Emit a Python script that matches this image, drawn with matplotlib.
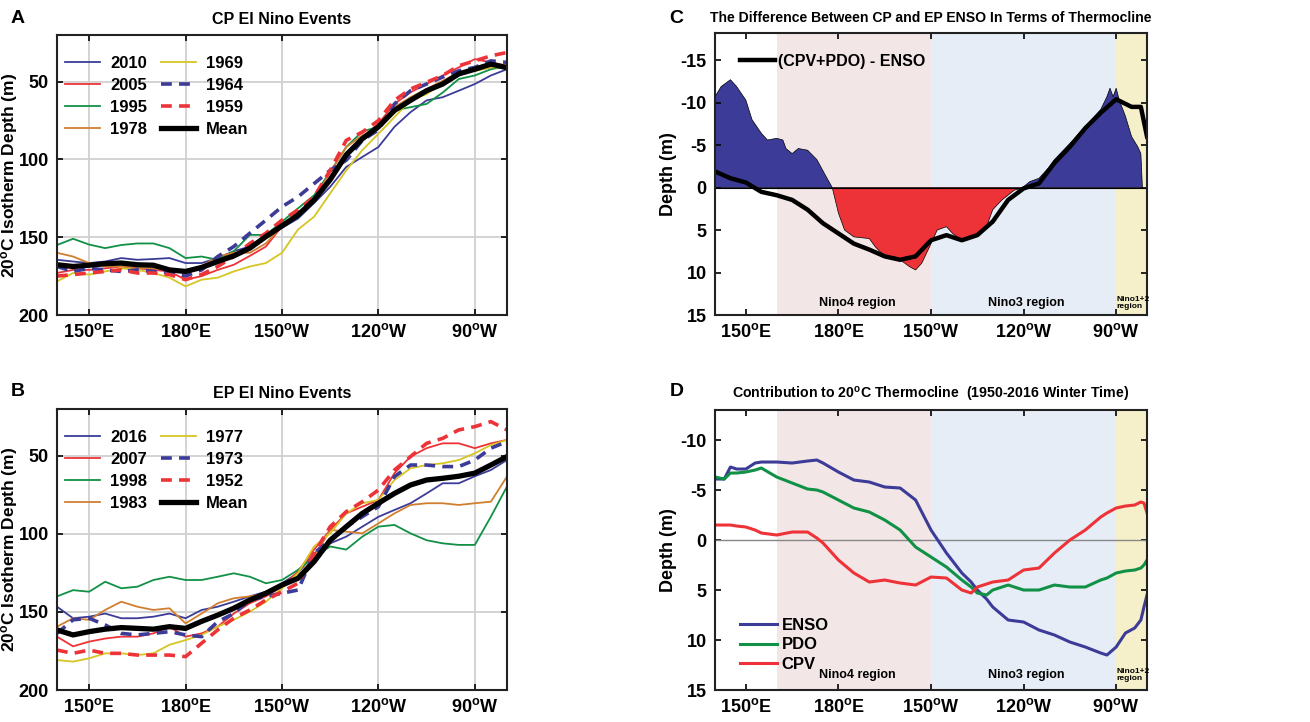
import numpy as np
import matplotlib
matplotlib.use('Agg')
import matplotlib.pyplot as plt

plt.rcParams['font.family'] = ['Liberation Sans', 'DejaVu Sans']
plt.rcParams['font.weight'] = 'bold'
plt.rcParams['axes.labelweight'] = 'bold'
plt.rcParams['axes.titleweight'] = 'bold'
plt.rcParams['mathtext.fontset'] = 'custom'
plt.rcParams['mathtext.rm'] = 'Liberation Sans:bold'
plt.rcParams['mathtext.it'] = 'Liberation Sans:bold'
plt.rcParams['mathtext.bf'] = 'Liberation Sans:bold'
plt.rcParams['mathtext.default'] = 'rm'

# longitude in degrees east (150W = 210)
lon = np.arange(140, 281, 5)
xticks = [150, 180, 210, 240, 270]
xticklabels = ['150$^{o}$E', '180$^{o}$E', '150$^{o}$W', '120$^{o}$W', '90$^{o}$W']

# ---- panel A: CP El Nino events, 20C isotherm depth (m)
cp_labels = ['2010', '2005', '1995', '1978', '1969', '1964', '1959', 'Mean']
cp_2010 = [164.5, 165.6, 166.6, 165.6, 163.4, 164.5, 164, 163.4, 166.6, 166.6, 163.4, 159, 156, 149.6,
           144, 138, 128, 117.6, 104.8, 98.4, 92, 79, 69.6, 62, 60, 55.8, 51.5, 46, 42]
cp_2005 = [173, 171, 171, 170, 168.8, 170, 171, 172, 177.3, 175, 171, 167.7, 162, 156,
           143, 134.6, 127, 111, 96.3, 85.6, 77, 64.3, 56.8, 51.5, 46, 40.8, 35.5, 37.6, 39.8]
cp_1995 = [155, 151, 154.7, 157, 155, 154, 154, 157, 163.4, 162.4, 164.5, 159, 148.5, 148.5,
           140, 131.4, 123, 108, 92, 82, 79, 68.5, 66.4, 64.3, 57, 48.3, 46, 42, 40]
cp_1978 = [160, 162.4, 166.6, 168.8, 168.8, 170, 170, 171, 173, 168.8, 162.4, 160, 160, 154,
           143, 135.7, 126, 108, 92, 84.5, 80, 66.4, 60, 54.7, 49.4, 44, 43, 40.8, 38.7]
cp_1969 = [178.4, 173, 174, 172, 170, 171, 173, 176, 181.6, 177.3, 176, 172, 168.8, 166.6,
           160, 145, 136.8, 121.8, 107, 94, 83.5, 72.8, 62, 58, 50.4, 44, 43, 40.8, 40.8]
cp_1964 = [168.8, 172, 170, 171, 172, 171, 172, 173, 175, 171, 162.4, 156, 147.4, 139,
           130.4, 124, 115.5, 107, 100.5, 87.7, 81, 64.3, 55.8, 51.5, 47, 43, 40.8, 36.6, 37.6]
cp_1959 = [175, 174, 173, 172, 171, 173, 173, 174, 177.3, 174, 168.8, 162.4, 154, 147.4,
           139, 132.5, 124, 107, 87.7, 82.4, 75, 62, 54.7, 50.4, 46, 39.8, 36.6, 33.4, 31.2]
cp_mean = [167.7, 168.8, 168, 167, 166.6, 167.7, 168, 171, 172, 169.4, 165.6, 162, 157, 149.6,
           142.7, 135.7, 126, 113, 97, 86.7, 79, 68.5, 62, 55.8, 51.5, 45, 42, 38.7, 41]

# ---- panel B: EP El Nino events
ep_labels = ['2016', '2007', '1998', '1983', '1977', '1973', '1952', 'Mean']
ep_2016 = [146.6, 154, 153, 151, 154, 154, 153, 151, 154, 148.7, 146.6, 143.4, 140, 137,
           131.6, 125, 112.4, 106, 101.7, 95.3, 89, 84.6, 80.3, 74, 67.5, 67.5, 63, 59, 52.6]
ep_2007 = [165.8, 172, 169, 167, 165.8, 165.8, 163.7, 159.4, 165.8, 163.7, 159.4, 151, 144.4, 140,
           133.8, 124, 110, 97.4, 86.8, 82.5, 78.2, 61, 50.4, 45, 41.9, 41.9, 45, 41.9, 39.7]
ep_1998 = [140, 136, 137, 130.6, 134.8, 133.8, 129.5, 127.4, 129.5, 129.5, 127.4, 125.2, 127.4, 131.6,
           129.5, 123, 114.5, 108, 110, 101.7, 95.3, 94.2, 99.6, 104, 106, 107, 107, 88.9, 69.6]
ep_1983 = [159.4, 154, 155, 148.7, 143.4, 146.6, 148.7, 147.6, 157.3, 151, 144.4, 141.2, 140, 138,
           132.7, 127.4, 114.5, 97.4, 98.5, 99.6, 93.2, 86.8, 81.4, 80.3, 80.3, 81.4, 80.3, 79.3, 63.2]
ep_1977 = [180.8, 181.8, 179.7, 176.5, 176.5, 177.6, 176.5, 171, 168, 164.7, 159.4, 155, 149.8, 143.4,
           134.8, 125, 108, 99.6, 86.8, 80.3, 78.2, 65.4, 57.9, 55.8, 54.7, 52.6, 48.3, 43, 39.7]
ep_1973 = [163.7, 155, 154, 158.3, 163.7, 164.7, 163.7, 162.6, 164.7, 165.8, 156.2, 151, 142.3, 140,
           138, 135.9, 112.4, 103.8, 95.3, 88.9, 82.5, 63.2, 55.8, 55.8, 56.8, 56.8, 52.6, 45, 40.8]
ep_1952 = [174.4, 176.5, 174.4, 176.5, 176.5, 177.6, 177.6, 177.6, 178.6, 170, 161.5, 154, 148.7, 142.3,
           137, 131.6, 112.4, 95.3, 85.7, 79.3, 71.8, 59, 50.4, 41.9, 38.7, 33.3, 31.2, 28, 33.3]
ep_mean = [161.5, 164.7, 162.6, 161, 160, 160.5, 161, 159.4, 160.5, 156, 152, 147.6, 142.3, 138,
           132.7, 128.4, 117.7, 104, 95.3, 86.8, 80.3, 74, 68.6, 65.4, 64.3, 63, 61, 55.8, 50.4]

# ---- panel C: (CPV+PDO) - ENSO, raw (filled) and smoothed (line)
lon_fill = [140, 142, 145, 147, 150, 152, 155, 157, 160, 162, 163, 165, 167, 170, 173, 176, 178,
            180, 182, 185, 190, 192, 195, 198, 200, 203, 205, 207, 210, 212, 215, 217, 220, 225,
            228, 230, 233, 237, 239, 240, 242, 245, 248, 250, 255, 260, 265, 267, 268, 269, 270,
            271, 273, 275, 277, 278, 278.5]
diff_fill = [-10.7, -11.9, -12.7, -11.9, -10.3, -8, -6.4, -5.6, -5.8, -5.6, -4.6, -4, -4.6, -4.4,
             -3.3, -1.3, 0, 3, 5, 5.8, 6, 7, 8.1, 8.1, 8.5, 9.3, 9.7, 8.9, 6.6, 5, 4.6, 5.4, 6.2,
             5.4, 4.6, 2.6, 1.45, 0.3, 0.1, -0.1, -0.7, -1.1, -2.3, -3.3, -5.2, -7.2, -9.2, -10.7,
             -11.7, -10.7, -11.7, -10.3, -8.4, -6, -4.8, -4, 0]
lon_diff = [140, 145, 150, 155, 160, 165, 170, 175, 180, 185, 190, 195, 200, 205, 210, 215, 220,
            225, 230, 235, 240, 245, 250, 255, 260, 265, 270, 275, 278, 280]
diff_line = [-1.9, -1.1, -0.6, 0.5, 0.9, 1.45, 2.6, 4.2, 5.4, 6.6, 7.3, 8.1, 8.5, 8.1, 6.2, 5.6,
             6.2, 5.6, 4, 1.45, 0.1, -0.5, -2.9, -4.8, -7, -8.8, -10.4, -9.5, -9.5, -6]

# ---- panel D: contributions to 20C thermocline (m)
lon_d = [140, 143, 145, 147, 150, 153, 155, 160, 165, 170, 173, 175, 180, 185, 190, 195, 200,
         205, 210, 215, 220, 223, 225, 228, 230, 235, 240, 245, 250, 255, 260, 265, 267, 270,
         273, 276, 278, 279, 280]
enso = [-6.1, -6.1, -7.3, -7.1, -7.1, -7.7, -7.8, -7.8, -7.7, -7.9, -8, -7.7, -6.8, -6, -5.8,
        -5.3, -5.2, -4, -1, 1.3, 3.3, 4.2, 5, 5.9, 6.7, 8, 8.2, 9, 9.5, 10.2, 10.7, 11.3, 11.5,
        10.7, 9.3, 8.8, 8, 6.7, 5.5]
pdo = [-6.3, -6.1, -6.7, -6.7, -6.8, -7, -7.2, -6.3, -5.7, -5.1, -5, -4.8, -4, -3.2, -2.8, -2,
       -1, 0.7, 1.7, 2.7, 4, 4.7, 5.3, 5.5, 5, 4.5, 5, 5, 4.5, 4.7, 4.7, 4, 3.8, 3.3, 3.1, 3,
       2.8, 2.5, 2]
cpv = [-1.5, -1.5, -1.5, -1.4, -1.3, -1, -0.7, -0.5, -0.8, -0.8, -0.2, 0.3, 2, 3.3, 4.2, 4,
       4.3, 4.5, 3.7, 3.8, 5, 5.3, 4.7, 4.4, 4.2, 4, 3, 2.8, 1.3, 0, -1, -2.3, -2.7, -3.2, -3.4,
       -3.5, -3.8, -3.7, -2.7]

c_blue = '#3c3c98'
c_red = '#ee3338'
c_green = '#119146'
c_orange = '#d17f2f'
c_yellow = '#d6c522'

fig = plt.figure(figsize=(13.1, 7.22), dpi=100)
axA = fig.add_axes([0.0435, 0.5637, 0.3435, 0.3878])
axB = fig.add_axes([0.0435, 0.0443, 0.3435, 0.3890])
axC = fig.add_axes([0.5458, 0.5637, 0.3298, 0.3906])
axD = fig.add_axes([0.5458, 0.0443, 0.3298, 0.3878])


def style_common(ax):
    ax.set_xlim(140, 280)
    ax.set_xticks(xticks)
    ax.set_xticklabels(xticklabels)
    ax.tick_params(direction='in', top=True, right=True, labelsize=13, length=4, width=1.2, pad=6)
    for s in ax.spines.values():
        s.set_linewidth(1.5)
        s.set_color('#222222')


def event_panel(ax, series, labels, title):
    colors = [c_blue, c_red, c_green, c_orange, c_yellow, c_blue, c_red, 'k']
    for i, (y, lab) in enumerate(zip(series, labels)):
        if i in (5, 6):
            ax.plot(lon, y, color=colors[i], lw=2.6, ls=(0, (3, 2)), label=lab)
        elif i == 7:
            ax.plot(lon, y, color='k', lw=3.8, label=lab)
        else:
            ax.plot(lon, y, color=colors[i], lw=1.3, label=lab)
    ax.set_ylim(200, 20)
    ax.set_yticks([50, 100, 150, 200])
    style_common(ax)
    ax.grid(True, color='#d0d0d0', lw=1.3)
    ax.set_axisbelow(True)
    ax.set_ylabel('20$^{o}$C Isotherm Depth (m)', fontsize=12.5)
    ax.yaxis.set_label_coords(-0.082, 0.5)
    ax.set_title(title, fontsize=11.5, pad=8)
    ax.legend(ncol=2, loc='upper left', frameon=False, fontsize=12, handlelength=2.1,
              handletextpad=0.6, columnspacing=0.8, labelspacing=0.43,
              bbox_to_anchor=(-0.015, 0.98))


event_panel(axA, [cp_2010, cp_2005, cp_1995, cp_1978, cp_1969, cp_1964, cp_1959, cp_mean],
            cp_labels, 'CP El Nino Events')
event_panel(axB, [ep_2016, ep_2007, ep_1998, ep_1983, ep_1977, ep_1973, ep_1952, ep_mean],
            ep_labels, 'EP El Nino Events')


def regions(ax, ytext):
    ax.axvspan(160, 210, color='#f3e6e6', lw=0, zorder=0)
    ax.axvspan(210, 270, color='#e6edf6', lw=0, zorder=0)
    ax.axvspan(270, 280, color='#f5f0ca', lw=0, zorder=0)
    ax.text(186, ytext, 'Nino4 region', ha='center', va='center', fontsize=9)
    ax.text(241, ytext, 'Nino3 region', ha='center', va='center', fontsize=9)
    ax.text(270.2, ytext, 'Nino1+2\nregion', ha='left', va='center', fontsize=6,
            linespacing=0.85)


# panel C
regions(axC, 13.6)
df = np.array(diff_fill)
axC.fill_between(lon_fill, 0, df, where=df <= 0, interpolate=True, facecolor=c_blue,
                 edgecolor='k', lw=0.5)
axC.fill_between(lon_fill, 0, df, where=df >= 0, interpolate=True, facecolor=c_red,
                 edgecolor='k', lw=0.5)
axC.axhline(0, color='k', lw=0.8)
axC.plot(lon_diff, diff_line, color='k', lw=3.2, label='(CPV+PDO) - ENSO')
axC.set_ylim(15, -18.2)
axC.set_yticks([-15, -10, -5, 0, 5, 10, 15])
axC.set_yticklabels(['-15', '-10', '-5', '0', '5', '10', '15'])
style_common(axC)
axC.set_ylabel('Depth (m)', fontsize=13)
axC.yaxis.set_label_coords(-0.088, 0.5)
axC.set_title('The Difference Between CP and EP ENSO In Terms of Thermocline',
              fontsize=10.1, pad=8)
axC.legend(loc='upper left', frameon=False, fontsize=11.5, handlelength=2.2, handletextpad=0.2,
           borderaxespad=0.2, bbox_to_anchor=(0.035, 0.96))

# panel D
regions(axD, 13.5)
axD.axhline(0, color='#888888', lw=1.0)
axD.plot(lon_d, enso, color=c_blue, lw=2.2, label='ENSO')
axD.plot(lon_d, pdo, color=c_green, lw=2.2, label='PDO')
axD.plot(lon_d, cpv, color=c_red, lw=2.2, label='CPV')
axD.set_ylim(15, -13)
axD.set_yticks([-10, -5, 0, 5, 10, 15])
axD.set_yticklabels(['-10', '-5', '0', '5', '10', '15'])
style_common(axD)
axD.set_ylabel('Depth (m)', fontsize=13)
axD.yaxis.set_label_coords(-0.088, 0.5)
axD.set_title('Contribution to 20$^{o}$C Thermocline  (1950-2016 Winter Time)',
              fontsize=10.2, pad=8)
axD.legend(loc='lower left', frameon=False, fontsize=12, handlelength=2.2, handletextpad=0.3,
           labelspacing=0.25, borderaxespad=0.2, bbox_to_anchor=(0.035, 0.03))

# panel letters
for lab, x, y in [('A', 0.008, 0.968), ('B', 0.008, 0.452), ('C', 0.511, 0.968), ('D', 0.511, 0.452)]:
    fig.text(x, y, lab, fontsize=14, fontweight='bold')

fig.savefig('out.png', dpi=100)
